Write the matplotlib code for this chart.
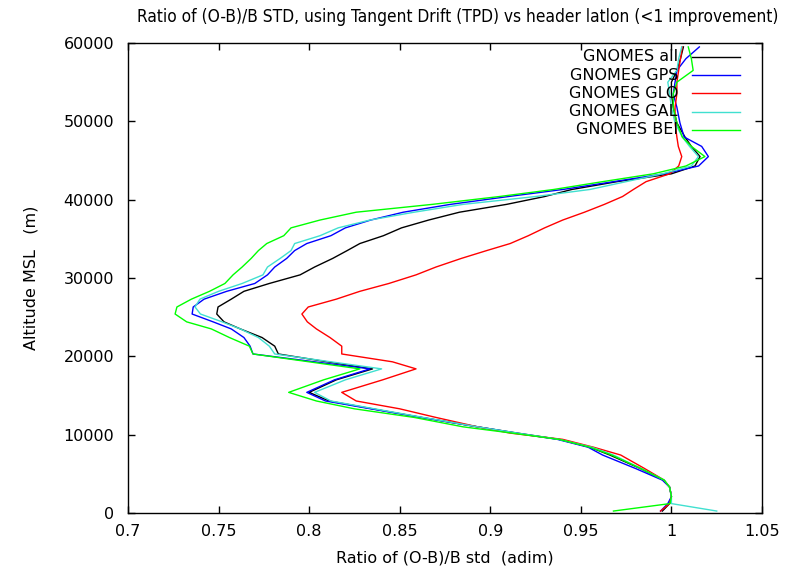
import numpy as np
import matplotlib
matplotlib.use('Agg')
from matplotlib import pyplot as plt

# altitude levels (m) shared by all the profiles
alt = [250, 1200, 2100, 3300, 4200, 5700, 7400, 8400, 9400, 10200,
       11000, 12200, 13300, 14300, 15400, 17000, 18400, 19300, 20300, 21300,
       22400, 23500, 24400, 25400, 26300, 27300, 28300, 29300, 30400, 31400,
       32500, 33500, 34400, 35400, 36400, 37400, 38400, 39400, 40400, 41300,
       42300, 43300, 44300, 45500, 46800, 48000, 49800, 51800, 53500, 55000,
       56500, 58000, 59500]

gn_all = [0.995, 0.999, 1.000, 0.999, 0.9955, 0.9826, 0.966, 0.955, 0.938, 0.915,
          0.893, 0.862, 0.835, 0.811, 0.800, 0.815, 0.835, 0.810, 0.783, 0.781,
          0.774, 0.762, 0.753, 0.749, 0.7497, 0.757, 0.764, 0.778, 0.795, 0.803,
          0.813, 0.821, 0.828, 0.841, 0.851, 0.866, 0.883, 0.909, 0.930, 0.945,
          0.970, 1.000, 1.013, 1.0158, 1.011, 1.0075, 1.003, 1.001, 1.000, 1.000,
          1.003, 1.005, 1.0066]

gn_gps = [0.994, 0.998, 1.000, 0.999, 0.995, 0.980, 0.962, 0.954, 0.937, 0.914,
          0.893, 0.862, 0.834, 0.809, 0.7987, 0.814, 0.8336, 0.803, 0.769, 0.7674,
          0.764, 0.757, 0.747, 0.7354, 0.736, 0.742, 0.7545, 0.770, 0.777, 0.781,
          0.7876, 0.792, 0.7987, 0.812, 0.820, 0.834, 0.852, 0.878, 0.910, 0.940,
          0.968, 0.996, 1.015, 1.0204, 1.0167, 1.007, 1.0047, 1.003, 1.001, 1.002,
          1.003, 1.008, 1.0154]

gn_glo = [0.994, 0.999, 1.000, 0.999, 0.996, 0.985, 0.972, 0.957, 0.940, 0.911,
          0.893, 0.870, 0.850, 0.826, 0.818, 0.8406, 0.859, 0.846, 0.818, 0.818,
          0.8115, 0.804, 0.799, 0.796, 0.7995, 0.815, 0.828, 0.844, 0.859, 0.870,
          0.884, 0.898, 0.911, 0.921, 0.930, 0.940, 0.952, 0.963, 0.973, 0.979,
          0.986, 0.999, 1.004, 1.0057, 1.0038, 1.003, 1.002, 1.002, 1.003, 1.003,
          1.004, 1.005, 1.006]

gn_gal = [1.025, 1.000, 1.000, 0.999, 0.996, 0.983, 0.968, 0.956, 0.938, 0.915,
          0.893, 0.863, 0.836, 0.812, 0.803, 0.820, 0.840, 0.812, 0.781, 0.778,
          0.772, 0.762, 0.752, 0.740, 0.737, 0.7397, 0.750, 0.763, 0.7745, 0.777,
          0.784, 0.790, 0.792, 0.806, 0.816, 0.8336, 0.858, 0.885, 0.925, 0.955,
          0.975, 0.995, 1.011, 1.0149, 1.010, 1.006, 1.002, 1.000, 0.999, 0.998,
          1.003, 1.004, 1.0057]

gn_bei = [0.968, 0.9992, 1.000, 0.999, 0.996, 0.983, 0.967, 0.955, 0.938, 0.912,
          0.885, 0.858, 0.825, 0.804, 0.7887, 0.808, 0.828, 0.800, 0.769, 0.767,
          0.756, 0.746, 0.7324, 0.726, 0.727, 0.735, 0.745, 0.7535, 0.758, 0.763,
          0.768, 0.772, 0.7766, 0.786, 0.790, 0.806, 0.826, 0.868, 0.905, 0.935,
          0.962, 0.990, 1.008, 1.0185, 1.011, 1.006, 1.003, 1.001, 1.001, 1.003,
          1.012, 1.011, 1.0093]

labels = ['GNOMES all', 'GNOMES GPS', 'GNOMES GLO', 'GNOMES GAL', 'GNOMES BEI']
colors = ['black', '#0000ff', '#ff0000', '#40e0d0', '#00ff00']
series = [gn_all, gn_gps, gn_glo, gn_gal, gn_bei]

xticks = [0.7, 0.75, 0.8, 0.85, 0.9, 0.95, 1, 1.05]
xtick_labels = ['0.7', '0.75', '0.8', '0.85', '0.9', '0.95', '1', '1.05']
yticks = [0, 10000, 20000, 30000, 40000, 50000, 60000]

plt.rcParams['font.family'] = ['DejaVu Sans']
fs = 11.5

fig = plt.figure(figsize=(8.03, 5.70), dpi=100)
ax = fig.add_axes([128/803, 57/570, 634/803, 470/570])

lines = []
for vals, lab, col in zip(series, labels, colors):
    ln, = ax.plot(vals, alt, color=col, lw=1.0, label=lab)
    lines.append(ln)

ax.set_xlim(0.7, 1.05)
ax.set_ylim(0, 60000)
ax.set_xticks(xticks)
ax.set_xticklabels(xtick_labels)
ax.set_yticks(yticks)
ax.tick_params(direction='in', length=5, width=1, top=True, right=True,
               labelsize=fs, pad=8)
ax.tick_params(axis='y', pad=10)
for s in ax.spines.values():
    s.set_linewidth(1.0)

ax.set_xlabel('Ratio of (O-B)/B std  (adim)', fontsize=fs, labelpad=8)
ax.set_ylabel('Altitude MSL   (m)', fontsize=fs, labelpad=18)
fig.text(0.570, 0.971, 'Ratio of (O-B)/B STD, using Tangent Drift (TPD) vs header latlon (<1 improvement)',
         ha='center', va='center', fontsize=12.4, fontstretch='condensed')

# gnuplot-like key: right-aligned text, then the line sample
row_h = 18.3 / 470
top_y = (513 - 56.7) / 470
leg = ax.legend(lines, [''] * len(lines), loc='upper right',
                bbox_to_anchor=(0.9653, (513 - 51.0) / 470), frameon=False,
                markerfirst=False, fontsize=fs, handlelength=3.0,
                handletextpad=0.0, labelspacing=0.19, borderpad=0, borderaxespad=0)
for i, lab in enumerate(labels):
    ax.text(0.8675, top_y - i * row_h, lab, transform=ax.transAxes,
            ha='right', va='center', fontsize=fs)

fig.savefig('out.png', dpi=100)
